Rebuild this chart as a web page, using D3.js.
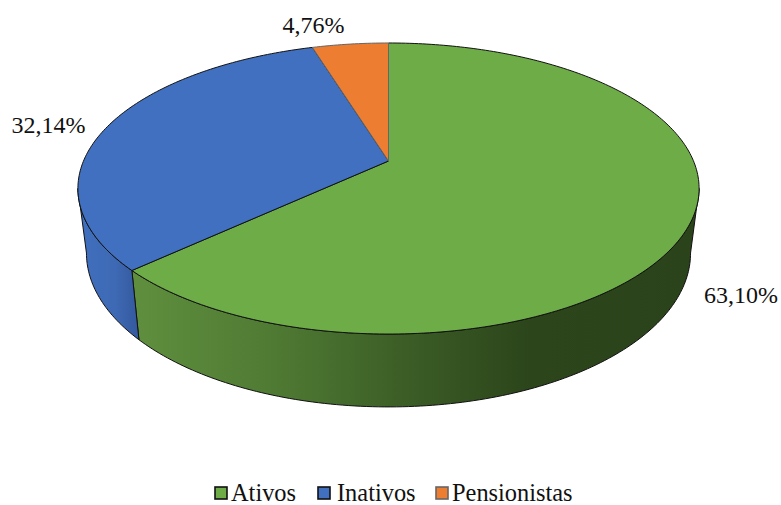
<!DOCTYPE html>
<html>
<head>
<meta charset="utf-8">
<script src="https://cdn.jsdelivr.net/npm/d3@7"></script>
<style>
  html, body { margin: 0; padding: 0; background: #fff; }
  text { font-family: "Liberation Serif", serif; fill: #111; }
</style>
</head>
<body>
<div id="chart"></div>
<script>
// data
var categories = ["Ativos", "Inativos", "Pensionistas"];
var values = [63.10, 32.14, 4.76];
var valueLabels = ["63,10%", "32,14%", "4,76%"];
var colors = ["#6eac48", "#4170c0", "#ed7d31"];
var edgeColors = ["#111", "#111", "#666"];

var width = 781, height = 505;

// perspective circle -> ellipse, values fitted on the picture
var persp = 0.189;
var topDisc = { cx: 388.5, y0: 161, b: -109.9, k: 305 };
var bottomDisc = { cx: 388.5, y0: 224, b: -106, k: 296.6 };

function project(disc, a) {
  var w = 1 + persp * Math.cos(a);
  return [
    disc.cx + disc.k * Math.sin(a) / w,
    (disc.y0 + disc.b * Math.cos(a)) / w
  ];
}

function sample(a0, a1) {
  var n = Math.max(2, Math.ceil(Math.abs(a1 - a0) * 60));
  return d3.range(n + 1).map(function (i) {
    return a0 + (a1 - a0) * i / n;
  });
}

var line = d3.line();

var svg = d3.select("#chart").append("svg")
  .attr("width", width)
  .attr("height", height)
  .style("display", "block");

var pie = d3.pie().sort(null).value(function (d) { return d; });
var slices = pie(values);

// side wall shading
var defs = svg.append("defs");
function wallGradient(id, x1, x2, stops) {
  var g = defs.append("linearGradient")
    .attr("id", id)
    .attr("gradientUnits", "userSpaceOnUse")
    .attr("x1", x1).attr("x2", x2)
    .attr("y1", 0).attr("y2", 0);
  stops.forEach(function (s) {
    g.append("stop").attr("offset", s[0]).attr("stop-color", s[1]);
  });
}
wallGradient("wall0", 133, 700, [
  [0, "#5f8f3e"], [0.25, "#4f7a33"], [0.5, "#3a5b25"], [0.7, "#2c451b"], [1, "#2b431a"]
]);
wallGradient("wall1", 78, 140, [
  [0, "#4070bf"], [0.6, "#3e69b4"], [1, "#33589c"]
]);

// visible part of the wall, between the two silhouette points
var wallStart = Math.acos(-persp);
var wallEnd = 2 * Math.PI - wallStart;

slices.forEach(function (d, i) {
  var a0 = Math.max(d.startAngle, wallStart);
  var a1 = Math.min(d.endAngle, wallEnd);
  if (a1 <= a0) return;
  var angles = sample(a0, a1);
  var pts = angles.map(function (a) { return project(topDisc, a); })
    .concat(angles.slice().reverse().map(function (a) { return project(bottomDisc, a); }));
  svg.append("path")
    .attr("d", line(pts) + "Z")
    .attr("fill", "url(#wall" + i + ")")
    .attr("stroke", "#111")
    .attr("stroke-width", 1)
    .attr("stroke-linejoin", "round");
});

// top face
var apex = [topDisc.cx, topDisc.y0];
slices.forEach(function (d, i) {
  var pts = sample(d.startAngle, d.endAngle).map(function (a) { return project(topDisc, a); });
  svg.append("path")
    .attr("d", line([apex].concat(pts)) + "Z")
    .attr("fill", colors[i])
    .attr("stroke", edgeColors[i])
    .attr("stroke-width", 1)
    .attr("stroke-linejoin", "round");
});

// value labels
var labelPos = [[741, 303], [48.5, 133], [313.5, 33]];
svg.selectAll("text.val")
  .data(valueLabels)
  .enter().append("text")
  .attr("class", "val")
  .attr("x", function (d, i) { return labelPos[i][0]; })
  .attr("y", function (d, i) { return labelPos[i][1]; })
  .attr("text-anchor", "middle")
  .attr("font-size", 24)
  .text(function (d) { return d; });

// legend
var legendX = [215, 318, 436];
var legendTextX = [16, 19, 16];
var legend = svg.selectAll("g.leg")
  .data(categories)
  .enter().append("g")
  .attr("class", "leg")
  .attr("transform", function (d, i) { return "translate(" + legendX[i] + ",487)"; });

legend.append("rect")
  .attr("width", 12)
  .attr("height", 12)
  .attr("fill", function (d, i) { return colors[i]; })
  .attr("stroke", function (d, i) { return edgeColors[i]; })
  .attr("stroke-width", 1.6);

legend.append("text")
  .attr("x", function (d, i) { return legendTextX[i]; })
  .attr("y", 14)
  .attr("font-size", 24.4)
  .text(function (d) { return d; });
</script>
</body>
</html>
